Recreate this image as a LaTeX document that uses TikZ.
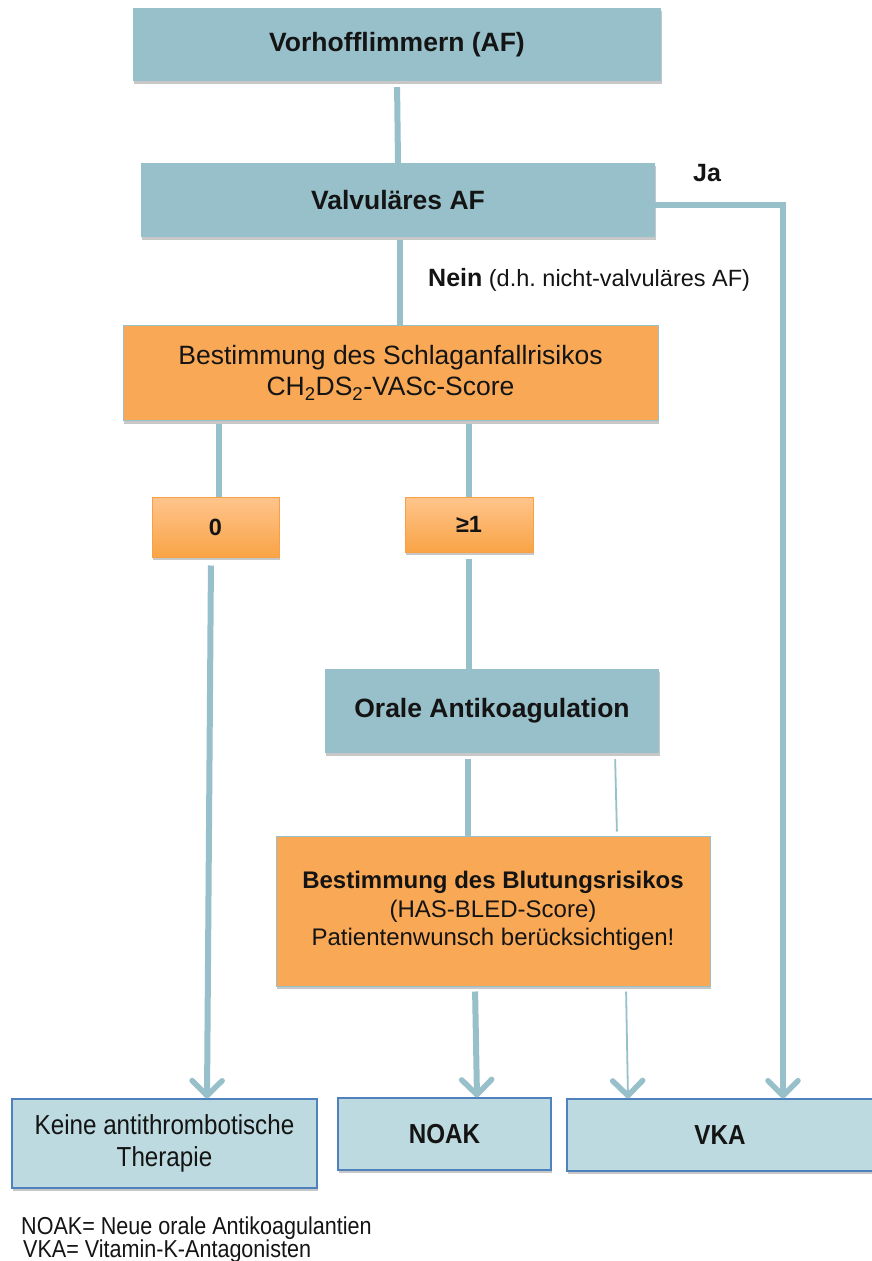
\documentclass[tikz,border=0pt]{standalone}
\usepackage{fontspec}
\setmainfont{Liberation Sans}
\newfontfamily\narrowfont[FakeStretch=0.88]{Liberation Sans}
\usetikzlibrary{arrows.meta,shadows}
\frenchspacing
\definecolor{tealbox}{RGB}{151,192,202}
\definecolor{orangebox}{RGB}{249,168,86}
\definecolor{orangetop}{RGB}{255,196,140}
\definecolor{orangebot}{RGB}{249,164,70}
\definecolor{orangeline}{RGB}{247,160,70}
\definecolor{lightbox}{RGB}{188,218,223}
\definecolor{blueline}{RGB}{79,129,189}
\definecolor{txt}{RGB}{20,20,20}
\tikzset{
  box/.style={inner sep=0pt, align=center, text=txt,
    drop shadow={shadow xshift=0.5pt, shadow yshift=-3pt, opacity=0.22, fill=black}},
  tbox/.style={box, fill=tealbox},
  obox/.style={box, fill=orangebox, draw=tealbox, line width=1pt},
  gbox/.style={box, top color=orangetop, bottom color=orangebot, draw=orangeline, line width=1pt},
  ebox/.style={box, fill=lightbox, draw=blueline, line width=1.2pt},
  conn/.style={draw=tealbox, line width=6pt},
  thinconn/.style={draw=tealbox, line width=1.8pt},
  tip/.style={-{Straight Barb[length=15pt,width=30pt,line width=5.5pt,round]}},
  big/.style={font=\fontsize{26.5}{31}\selectfont},
  bigb/.style={font=\fontsize{26.5}{31}\selectfont\bfseries},
}
\begin{document}
\begin{tikzpicture}[x=1pt,y=-1pt]
\path[use as bounding box, fill=white] (0,0) rectangle (871,1261);

% nodes
\node[tbox, bigb, minimum width=528pt, minimum height=73pt] (b1) at (397,44.5) {Vorhofflimmern (AF)};
\node[tbox, bigb, minimum width=514pt, minimum height=74pt] (b2) at (398,200) {Valvuläres AF};
\node[obox, big, minimum width=535pt, minimum height=95pt] (b3) at (390.5,373)
  {Bestimmung des Schlaganfallrisikos\\CH\textsubscript{2}DS\textsubscript{2}-VASc-Score};
\node[gbox, font=\fontsize{23.5}{27}\selectfont\bfseries, minimum width=127pt, minimum height=60pt] (n0) at (215.5,527) {0};
\node[gbox, font=\fontsize{23.5}{27}\selectfont\bfseries, minimum width=128pt, minimum height=55pt] (n1) at (469,524.5) {≥1};
\node[tbox, bigb, minimum width=334pt, minimum height=84pt] (oa) at (492,711) {Orale Antikoagulation};
\node[obox, font=\fontsize{24}{28.5}\selectfont, minimum width=434pt, minimum height=150pt] (br) at (493,911)
  {\bfseries Bestimmung des Blutungsrisikos\\(HAS-BLED-Score)\\Patientenwunsch berücksichtigen!};
\node[ebox, font=\fontsize{27.5}{32}\selectfont\narrowfont, minimum width=305pt, minimum height=89pt] (ke) at (164.5,1143.5)
  {Keine antithrombotische\\Therapie};
\node[ebox, font=\fontsize{27.5}{32}\selectfont\narrowfont\bfseries, minimum width=213pt, minimum height=72pt] (noak) at (444.5,1134) {NOAK};
\node[ebox, font=\fontsize{27.5}{32}\selectfont\narrowfont\bfseries, minimum width=306pt, minimum height=72pt] (vka) at (720,1135) {VKA};

% labels
\node[font=\fontsize{25}{29}\selectfont\bfseries, text=txt] (ja) at (707,173) {Ja};
\node[anchor=west, font=\fontsize{23.5}{28}\selectfont, text=txt, inner sep=0pt] (nein) at (428,280)
  {{\fontsize{25}{29}\selectfont\bfseries Nein} (d.h. nicht-valvuläres AF)};
\node[anchor=west, font=\fontsize{24.5}{28}\selectfont\narrowfont, text=txt, inner sep=0pt] (fn1) at (21,1228) {NOAK= Neue orale Antikoagulantien};
\node[anchor=west, font=\fontsize{24.5}{28}\selectfont\narrowfont, text=txt, inner sep=0pt] (fn2) at (23,1251) {VKA= Vitamin-K-Antagonisten};

\coordinate (jacorner) at (783,205);

% connectors
\draw[conn, shorten <=6pt] (b1.south) -- (b2.north);
\draw[conn, shorten <=3pt] ([xshift=2pt]b2.south) -- ([xshift=2pt]b2.south |- b3.north);
\draw[conn, tip] (b2.east |- jacorner) -- (jacorner) -- (jacorner |- vka.north);
\draw[conn, shorten <=3pt] ([xshift=3.5pt]n0.north |- b3.south) -- ([xshift=3.5pt]n0.north);
\draw[conn, shorten <=3pt] (n1.north |- b3.south) -- (n1.north);
\draw[conn, tip, shorten <=8pt] ([xshift=-4.5pt]n0.south) -- ([xshift=42.5pt]ke.north);
\draw[conn, shorten <=6pt] (n1.south) -- (n1.south |- oa.north);
\draw[conn, shorten <=6pt] ([xshift=-24pt]oa.south) -- ([xshift=-25pt]br.north);
\draw[thinconn, shorten <=6pt, shorten >=4pt] ([xshift=123pt]oa.south) -- ([xshift=124pt]br.north);
\draw[conn, tip, shorten <=5pt] ([xshift=-18pt]br.south) -- ([xshift=32.5pt]noak.north);
\draw[thinconn, tip, shorten <=5pt] ([xshift=133pt]br.south) -- ([xshift=-92pt]vka.north);
\end{tikzpicture}
\end{document}
